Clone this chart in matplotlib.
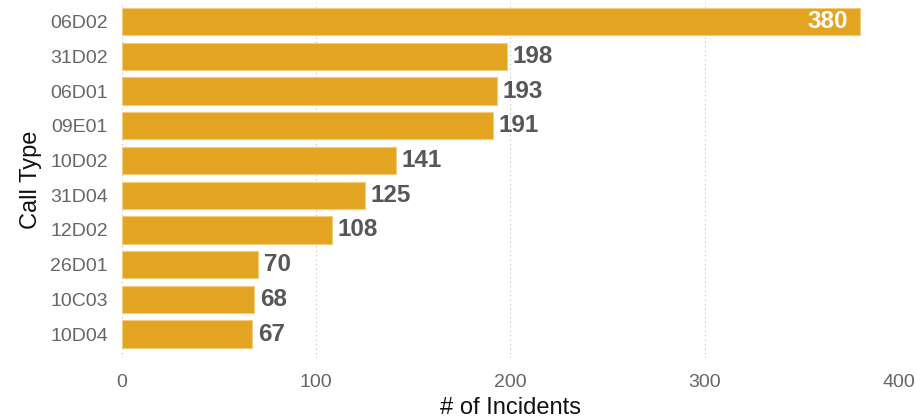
import matplotlib
matplotlib.use("Agg")
import matplotlib.pyplot as plt

categories = ["06D02", "31D02", "06D01", "09E01", "10D02", "31D04", "12D02", "26D01", "10C03", "10D04"]
counts = [380, 198, 193, 191, 141, 125, 108, 70, 68, 67]
xticks = [0, 100, 200, 300, 400]

fig = plt.figure(figsize=(9.15, 4.19), dpi=100)
ax = fig.add_axes([0.1333, 0.146, 0.849, 0.849])

pos = list(range(len(categories)))
ax.barh(pos, counts, height=0.79, color="#E3A421", edgecolor="#F0CC80", linewidth=0.8, zorder=2)

for p, v in zip(pos, counts):
    if v == max(counts):
        ax.text(v - 6, p, str(v), ha="right", va="center", color="white",
                fontsize=17.5, fontweight="bold", family="Liberation Sans", zorder=3)
    else:
        ax.text(v + 3, p, str(v), ha="left", va="center", color="#575757",
                fontsize=17.5, fontweight="bold", family="Liberation Sans", zorder=3)

ax.set_yticks(pos)
ax.set_yticklabels(categories, family="Liberation Sans", fontsize=14, color="#666666")
ax.set_xticks(xticks)
ax.set_xticklabels([str(t) for t in xticks], family="Liberation Sans", fontsize=14, color="#666666")
ax.set_xlim(0, 400)
ax.set_ylim(9.68, -0.56)

ax.grid(axis="x", linestyle=(0, (1, 3)), color="#BBBBBB", linewidth=0.8, zorder=0)
ax.grid(axis="y", visible=False)
for s in ax.spines.values():
    s.set_visible(False)
ax.tick_params(axis="y", length=0, pad=10)
ax.tick_params(axis="x", length=0, pad=12)

ax.set_xlabel("# of Incidents", family="Liberation Sans", fontsize=17, color="#111111", labelpad=4)
ax.set_ylabel("Call Type", family="Liberation Sans", fontsize=17, color="#111111", labelpad=6)

fig.savefig("out.png", dpi=100)
